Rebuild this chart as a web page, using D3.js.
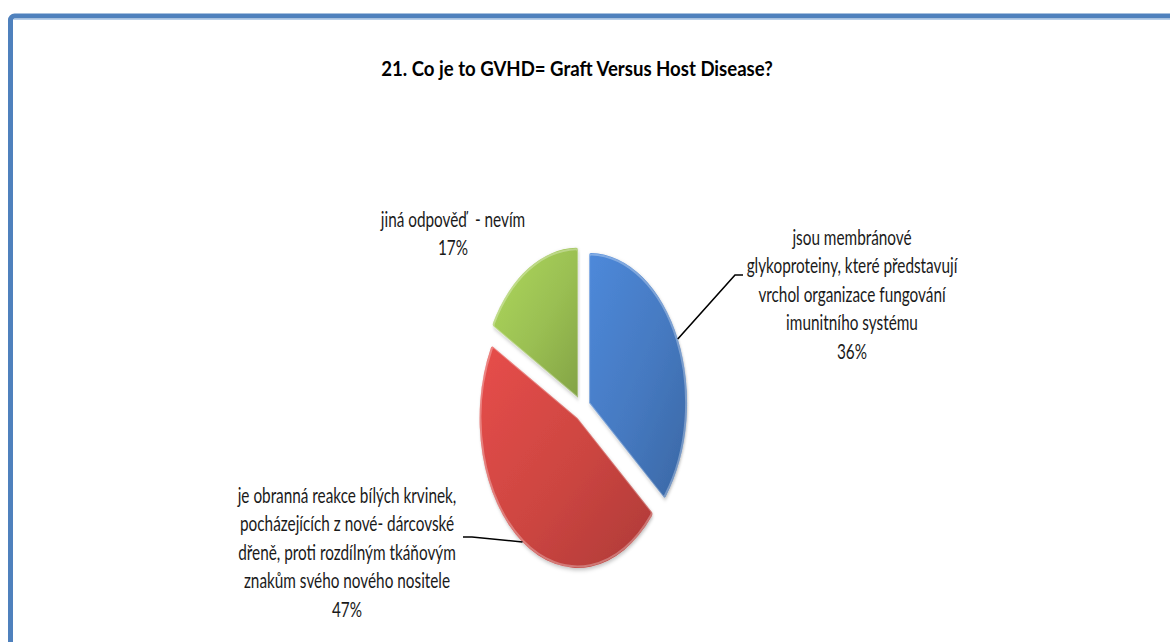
<!DOCTYPE html>
<html>
<head>
<meta charset="utf-8">
<script src="https://cdn.jsdelivr.net/npm/d3@7"></script>
<style>
  body { margin: 0; background: #fff; }
  svg { display: block; }
  text { white-space: pre; }
</style>
</head>
<body>
<div id="chart"></div>
<script>
// data
const title = '21. Co je to GVHD= Graft Versus Host Disease?';
const categories = [
  'jsou membránové glykoproteiny, které představují vrchol organizace fungování imunitního systému',
  'je obranná reakce bílých krvinek, pocházejících z nové- dárcovské dřeně, proti rozdílným tkáňovým znakům svého nového nositele',
  'jiná odpověď  - nevím'
];
const values = [36, 47, 17];
const labelLines = [
  ['jsou membránové', 'glykoproteiny, které představují', 'vrchol organizace fungování', 'imunitního systému'],
  ['je obranná reakce bílých krvinek,', 'pocházejících z nové- dárcovské', 'dřeně, proti rozdílným tkáňovým', 'znakům svého nového nositele'],
  ['jiná odpověď  - nevím']
];
const colors = ['#4579c0', '#cc4541', '#9abf52'];

// layout
const width = 1170;
const height = 642;
const center = { x: 582, y: 408 };
const radius = 150;
const squeeze = 98 / 150;
const explode = 12;
const lineHeight = 28.4;
const textScale = 0.73;
const labelPos = [
  { x: 852, y: 245, leader: [[735, 275], [743, 275]] },
  { x: 347, y: 503, leader: [[472, 537], [463, 537]] },
  { x: 453, y: 227, leader: null }
];

const svg = d3.select('#chart')
  .append('svg')
  .attr('width', width)
  .attr('height', height);

const defs = svg.append('defs');

// frame
svg.append('rect')
  .attr('x', 10.5)
  .attr('y', 16)
  .attr('width', width + 20)
  .attr('height', height + 20)
  .attr('rx', 4)
  .attr('fill', '#fff')
  .attr('stroke', '#4f81bd')
  .attr('stroke-width', 5);
svg.append('line')
  .attr('x1', 13).attr('x2', width)
  .attr('y1', 19.5).attr('y2', 19.5)
  .attr('stroke', '#b9d0ea')
  .attr('stroke-width', 1);

svg.append('text')
  .attr('transform', `translate(577,76) scale(0.93,1)`)
  .attr('text-anchor', 'middle')
  .attr('font-family', 'Lato, sans-serif')
  .attr('font-weight', 'bold')
  .attr('font-size', 20)
  .attr('fill', '#000')
  .text(title);

// slice gradients, lighter top-left, darker bottom-right
colors.forEach((c, i) => {
  const g = defs.append('linearGradient')
    .attr('id', `grad${i}`)
    .attr('x1', '0').attr('y1', '0')
    .attr('x2', '1').attr('y2', '1');
  g.append('stop').attr('offset', '0%').attr('stop-color', d3.color(c).brighter(0.35));
  g.append('stop').attr('offset', '55%').attr('stop-color', c);
  g.append('stop').attr('offset', '100%').attr('stop-color', d3.color(c).darker(0.45));
});

const shadow = defs.append('filter')
  .attr('id', 'shadow')
  .attr('x', '-20%').attr('y', '-20%')
  .attr('width', '140%').attr('height', '140%');
shadow.append('feDropShadow')
  .attr('dx', 1).attr('dy', 2)
  .attr('stdDeviation', 2)
  .attr('flood-color', '#000')
  .attr('flood-opacity', 0.25);

const pie = d3.pie().sort(null).value((d) => d);
const arcs = pie(values);
const arc = d3.arc().innerRadius(0).outerRadius(radius).cornerRadius(3);
const mid = (d) => (d.startAngle + d.endAngle) / 2;

const pieG = svg.append('g')
  .attr('transform', `translate(${center.x},${center.y}) scale(${squeeze},1)`);

pieG.selectAll('.slice')
  .data(arcs)
  .enter()
  .append('path')
  .attr('class', 'slice')
  .attr('transform', (d) => `translate(${Math.sin(mid(d)) * explode},${-Math.cos(mid(d)) * explode})`)
  .attr('d', arc)
  .attr('fill', (d, i) => `url(#grad${i})`)
  .attr('filter', 'url(#shadow)');

pieG.selectAll('.bevel')
  .data(arcs)
  .enter()
  .append('path')
  .attr('class', 'bevel')
  .attr('transform', (d) => `translate(${Math.sin(mid(d)) * explode},${-Math.cos(mid(d)) * explode})`)
  .attr('d', d3.arc().innerRadius(0).outerRadius(radius - 1.5).cornerRadius(3))
  .attr('fill', 'none')
  .attr('stroke', '#fff')
  .attr('stroke-opacity', 0.3)
  .attr('stroke-width', 2)
  .attr('vector-effect', 'non-scaling-stroke');

// leader lines from the arc midpoint to the label
const edgePoint = (d) => {
  const a = mid(d);
  const r = radius + explode;
  return [center.x + Math.sin(a) * r * squeeze, center.y - Math.cos(a) * r];
};

arcs.forEach((d, i) => {
  const pos = labelPos[i];
  if (pos.leader) {
    svg.append('path')
      .attr('d', d3.line()([edgePoint(d), ...pos.leader]))
      .attr('fill', 'none')
      .attr('stroke', '#000')
      .attr('stroke-width', 1.6);
  }
  const lines = labelLines[i].concat([`${values[i]}%`]);
  const lg = svg.append('g')
    .attr('transform', `translate(${pos.x},${pos.y}) scale(${textScale},1)`);
  lg.selectAll('text')
    .data(lines)
    .enter()
    .append('text')
    .attr('x', 0)
    .attr('y', (t, j) => j * lineHeight)
    .attr('text-anchor', 'middle')
    .attr('font-family', 'Lato, sans-serif')
    .attr('font-size', 21)
    .attr('fill', '#1a1a1a')
    .text((t) => t);
});
</script>
</body>
</html>
